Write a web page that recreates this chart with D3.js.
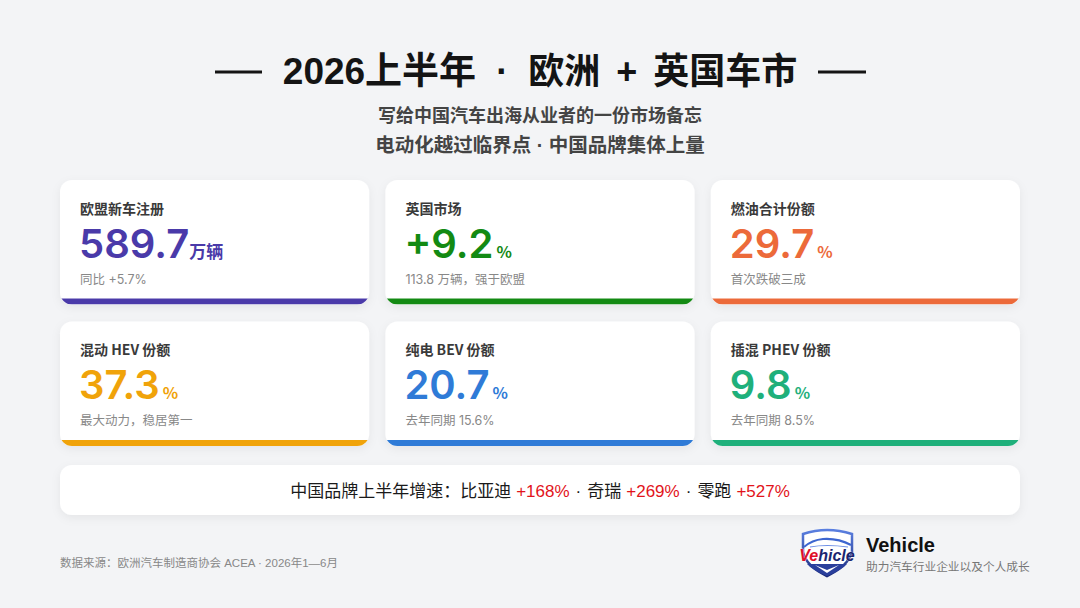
<!DOCTYPE html>
<html><head><meta charset="utf-8">
<script src="https://cdn.jsdelivr.net/npm/d3@7"></script>
<style>
html,body{margin:0;padding:0;background:#f3f4f6;}
svg{display:block;font-family:"Liberation Sans","Noto Sans CJK SC",sans-serif;}
</style></head>
<body>
<svg id="c" width="1080" height="608"></svg>
<script>
// ---- data ----
const titleParts = ["2026上半年", "·", "欧洲", "+", "英国车市"];
const subtitles = ["写给中国汽车出海从业者的一份市场备忘", "电动化越过临界点 · 中国品牌集体上量"];
const cardTitles = ["欧盟新车注册", "英国市场", "燃油合计份额", "混动 HEV 份额", "纯电 BEV 份额", "插混 PHEV 份额"];
const cardValues = ["589.7", "+9.2", "29.7", "37.3", "20.7", "9.8"];
const cardUnits = ["万辆", "%", "%", "%", "%", "%"];
const cardNotes = ["同比 +5.7%", "113.8 万辆，强于欧盟", "首次跌破三成", "最大动力，稳居第一", "去年同期 15.6%", "去年同期 8.5%"];
const palette = ["#4a3aa9", "#138a13", "#ec6a3a", "#f0a30a", "#2f7bd7", "#1fb07b"];
const brandLead = "中国品牌上半年增速：";
const brandNames = ["比亚迪", "奇瑞", "零跑"];
const brandGrowth = ["+168%", "+269%", "+527%"];
const sourceText = "数据来源：欧洲汽车制造商协会 ACEA · 2026年1—6月";

// ---- drawing ----
const svg = d3.select("#c");
const defs = svg.append("defs");
const f = defs.append("filter").attr("id","sh").attr("x","-10%").attr("y","-20%").attr("width","120%").attr("height","150%");
f.append("feDropShadow").attr("dx",0).attr("dy",3).attr("stdDeviation",5).attr("flood-color","#000").attr("flood-opacity",0.06);

svg.append("rect").attr("width",1080).attr("height",608).attr("fill","#f3f4f6");

// title
const tt = svg.append("text").attr("x",540).attr("y",84).attr("text-anchor","middle")
  .attr("font-size",36).attr("font-weight",700).attr("fill","#141414");
titleParts.forEach((p,i)=>{
  const s = tt.append("tspan").attr("dx", i===0?0:(i===1||i===2?20:16)).text(p);
  if(i===0) s.attr("font-size",37);
});
[[215,262],[818,866]].forEach(([a,b])=>svg.append("line").attr("x1",a).attr("x2",b).attr("y1",72).attr("y2",72)
  .attr("stroke","#141414").attr("stroke-width",3));
subtitles.forEach((s,i)=>svg.append("text").attr("x",540).attr("y",[122,152][i]).attr("text-anchor","middle")
  .attr("font-size",[18,19.5][i]).attr("font-weight",700).attr("fill","#444").text(s));

// card grid
const xCol = d3.scaleBand().domain([0,1,2]).range([60,1020]).paddingInner(0.05);
const yRow = d3.scaleBand().domain([0,1]).range([180,446]).paddingInner(0.12);
const W = xCol.bandwidth(), H = yRow.bandwidth();

const cards = svg.selectAll("g.card").data(cardTitles.map((t,i)=>({i,t}))).join("g")
  .attr("class","card")
  .attr("transform",d=>`translate(${xCol(d.i%3)},${yRow(Math.floor(d.i/3))})`);

cards.each(function(d){
  const g = d3.select(this);
  const cid = "clip"+d.i;
  defs.append("clipPath").attr("id",cid).append("rect").attr("width",W).attr("height",H).attr("rx",12);
  g.append("rect").attr("width",W).attr("height",H).attr("rx",12).attr("fill","#fff").attr("filter","url(#sh)");
  g.append("rect").attr("y",H-6).attr("width",W).attr("height",6).attr("fill",palette[d.i]).attr("clip-path",`url(#${cid})`);
  g.append("text").attr("x",20).attr("y",34).attr("font-size",14).attr("font-weight",700).attr("fill","#3a3a3a")
    .attr("font-family","'Noto Sans CJK SC',sans-serif").text(d.t);
  const v = g.append("text").attr("x",19).attr("y",78).attr("fill",palette[d.i]).attr("font-family","Inter,'Noto Sans',sans-serif");
  v.append("tspan").attr("font-size",40).attr("font-weight",600).text(cardValues[d.i]);
  const isPct = cardUnits[d.i]==="%";
  v.append("tspan").attr("dx",isPct?3:0).attr("font-size",isPct?16:17).attr("font-weight",700)
    .attr("font-family","'Noto Sans CJK SC',sans-serif").text(cardUnits[d.i]);
  g.append("text").attr("x",20).attr("y",104).attr("font-size",12.5).attr("fill","#888")
    .attr("font-family","Inter,'Noto Sans CJK SC',sans-serif").text(cardNotes[d.i]);
});

// brand growth card
const bg = svg.append("g").attr("transform","translate(60,465)");
bg.append("rect").attr("width",960).attr("height",50).attr("rx",12).attr("fill","#fff").attr("filter","url(#sh)");
const bt = bg.append("text").attr("x",480).attr("y",32).attr("text-anchor","middle").attr("font-size",17).attr("fill","#1a1a1a");
bt.append("tspan").text(brandLead);
brandNames.forEach((n,i)=>{
  if(i) bt.append("tspan").attr("dx",6).attr("fill","#1a1a1a").text("·");
  bt.append("tspan").attr("dx",i?6:0).attr("fill","#1a1a1a").text(n);
  bt.append("tspan").attr("dx",5).attr("fill","#e2141b").attr("font-weight",500).text(brandGrowth[i]);
});

// footer
svg.append("text").attr("x",60).attr("y",567).attr("font-size",11.5).attr("fill","#888").text(sourceText);

// logo
const lg = svg.append("g").attr("transform","translate(790,520)");
const grad = defs.append("linearGradient").attr("id","lgG").attr("x1",0).attr("y1",0).attr("x2",0).attr("y2",1);
grad.append("stop").attr("offset",0).attr("stop-color","#5a7fe0");
grad.append("stop").attr("offset",1).attr("stop-color","#1b2a7a");
lg.append("path").attr("d","M13,14 Q37,6 62,14 L62,32 Q58,46 37,56 Q16,46 13,32 Z").attr("fill","#fff")
  .attr("stroke","url(#lgG)").attr("stroke-width",2.5);
lg.append("path").attr("d","M17,44 L57,44 Q52,50 37,56 Q22,50 17,44 Z").attr("fill","#2a3f9c");
lg.append("path").attr("d","M25,45 L37,53 L49,45 L37,50 Z").attr("fill","#fff");
lg.append("path").attr("d","M14,27 Q22,20 33,19 Q48,18 61,25").attr("fill","none").attr("stroke","#3d66d0").attr("stroke-width",2);
lg.append("path").attr("d","M20,27 Q36,24 58,27").attr("fill","none").attr("stroke","#6d8fe6").attr("stroke-width",1.2);
const lt = lg.append("text").attr("x",37).attr("y",41).attr("text-anchor","middle").attr("font-size",16)
  .attr("font-weight",700).attr("font-style","italic").attr("font-family","'Liberation Sans',Arial,sans-serif")
  .attr("stroke","#fff").attr("stroke-width",0.5).attr("paint-order","stroke");
lt.append("tspan").attr("fill","#e0102a").text("Ve");
lt.append("tspan").attr("fill","#1b2670").text("hicle");
svg.append("text").attr("x",866).attr("y",552).attr("font-size",20).attr("font-weight",700).attr("fill","#111")
  .attr("font-family","'Liberation Sans',Arial,sans-serif").text("Vehicle");
svg.append("text").attr("x",866).attr("y",571).attr("font-size",11.7).attr("fill","#777")
  .attr("font-family","'Noto Sans CJK SC',sans-serif").text("助力汽车行业企业以及个人成长");
</script>
</body></html>
